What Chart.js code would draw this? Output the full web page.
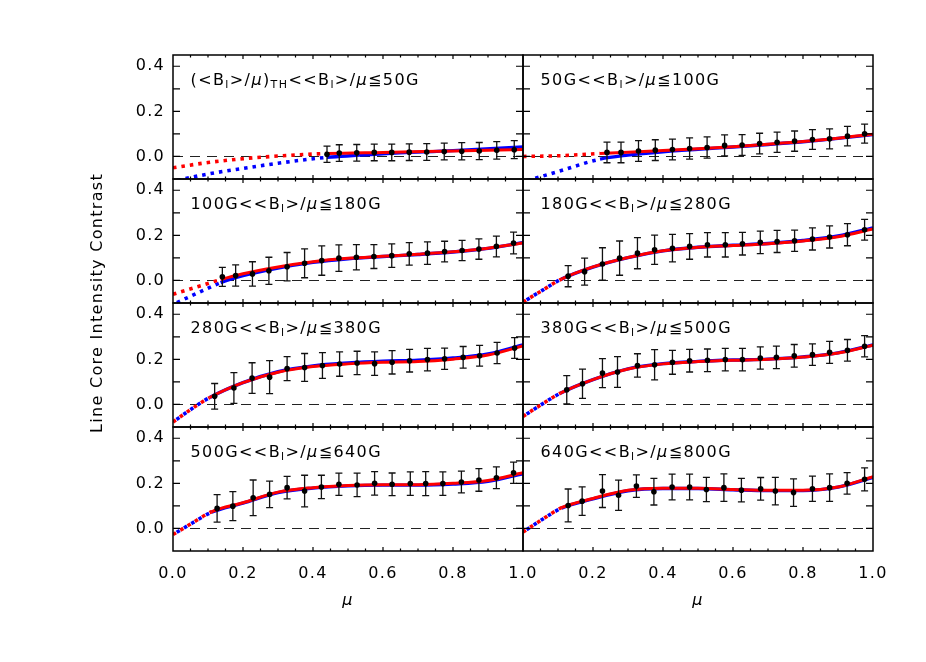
<!DOCTYPE html>
<html>
<head>
<meta charset="utf-8">
<script src="https://cdn.jsdelivr.net/npm/chart.js@4.4.1/dist/chart.umd.min.js"></script>
<style>
html, body { margin: 0; padding: 0; background: #fff; }
#wrap { width: 926px; height: 662px; }
</style>
</head>
<body>
<div id="wrap"><canvas id="c" width="926" height="662"></canvas></div>
<script>
// panel titles, _{..} = subscript
const panelLabels = [
  '(<B_{l}>/μ)_{TH}<<B_{l}>/μ≦50G', '50G<<B_{l}>/μ≦100G',
  '100G<<B_{l}>/μ≦180G', '180G<<B_{l}>/μ≦280G',
  '280G<<B_{l}>/μ≦380G', '380G<<B_{l}>/μ≦500G',
  '500G<<B_{l}>/μ≦640G', '640G<<B_{l}>/μ≦800G'
];

// binned measurements
const muPoints = [
  [0.44, 0.475, 0.525, 0.575, 0.625, 0.675, 0.725, 0.775, 0.825, 0.875, 0.925, 0.975],
  [0.24, 0.28, 0.33, 0.378, 0.427, 0.476, 0.526, 0.576, 0.626, 0.676, 0.726, 0.776, 0.827, 0.876, 0.927, 0.976],
  [0.141, 0.179, 0.227, 0.274, 0.326, 0.376, 0.425, 0.474, 0.524, 0.574, 0.625, 0.675, 0.727, 0.776, 0.826, 0.874, 0.924, 0.973],
  [0.129, 0.176, 0.227, 0.276, 0.327, 0.376, 0.427, 0.476, 0.527, 0.578, 0.627, 0.678, 0.726, 0.776, 0.827, 0.876, 0.927, 0.976],
  [0.119, 0.174, 0.226, 0.276, 0.326, 0.376, 0.427, 0.476, 0.526, 0.576, 0.626, 0.676, 0.727, 0.776, 0.829, 0.876, 0.926, 0.976],
  [0.125, 0.17, 0.227, 0.27, 0.327, 0.376, 0.427, 0.476, 0.527, 0.578, 0.627, 0.678, 0.724, 0.775, 0.827, 0.876, 0.927, 0.976],
  [0.126, 0.171, 0.229, 0.276, 0.326, 0.376, 0.424, 0.474, 0.526, 0.576, 0.626, 0.678, 0.722, 0.771, 0.824, 0.874, 0.924, 0.973],
  [0.129, 0.169, 0.227, 0.273, 0.324, 0.374, 0.426, 0.476, 0.524, 0.574, 0.624, 0.679, 0.721, 0.773, 0.827, 0.876, 0.926, 0.976]
];
const contrast = [
  [0.010, 0.015, 0.016, 0.018, 0.018, 0.019, 0.020, 0.022, 0.023, 0.024, 0.027, 0.030],
  [0.018, 0.018, 0.024, 0.028, 0.031, 0.035, 0.040, 0.049, 0.051, 0.057, 0.063, 0.068, 0.075, 0.078, 0.090, 0.101],
  [0.016, 0.022, 0.029, 0.043, 0.061, 0.076, 0.088, 0.099, 0.103, 0.106, 0.110, 0.118, 0.121, 0.128, 0.133, 0.139, 0.151, 0.166],
  [0.019, 0.039, 0.073, 0.099, 0.121, 0.136, 0.143, 0.151, 0.158, 0.158, 0.163, 0.169, 0.173, 0.176, 0.184, 0.193, 0.203, 0.225],
  [0.036, 0.073, 0.117, 0.121, 0.159, 0.164, 0.173, 0.179, 0.184, 0.181, 0.187, 0.194, 0.199, 0.203, 0.209, 0.216, 0.228, 0.250],
  [0.065, 0.092, 0.139, 0.144, 0.173, 0.176, 0.187, 0.194, 0.196, 0.199, 0.199, 0.206, 0.209, 0.216, 0.221, 0.231, 0.240, 0.258],
  [0.089, 0.099, 0.136, 0.151, 0.181, 0.166, 0.184, 0.196, 0.193, 0.200, 0.196, 0.199, 0.199, 0.199, 0.206, 0.215, 0.225, 0.247],
  [0.102, 0.121, 0.166, 0.147, 0.188, 0.163, 0.184, 0.184, 0.173, 0.181, 0.170, 0.176, 0.166, 0.159, 0.176, 0.181, 0.200, 0.218]
];
const contrastErr = [
  [0.036, 0.037, 0.037, 0.037, 0.037, 0.037, 0.037, 0.037, 0.038, 0.038, 0.039, 0.040],
  [0.046, 0.046, 0.046, 0.046, 0.046, 0.047, 0.047, 0.047, 0.046, 0.046, 0.045, 0.045, 0.044, 0.044, 0.043, 0.042],
  [0.042, 0.047, 0.054, 0.060, 0.063, 0.064, 0.065, 0.059, 0.056, 0.053, 0.052, 0.050, 0.050, 0.046, 0.045, 0.045, 0.046, 0.048],
  [0.047, 0.060, 0.072, 0.076, 0.069, 0.065, 0.061, 0.057, 0.054, 0.054, 0.050, 0.050, 0.049, 0.047, 0.049, 0.049, 0.049, 0.046],
  [0.057, 0.068, 0.068, 0.073, 0.053, 0.062, 0.057, 0.054, 0.052, 0.052, 0.052, 0.050, 0.050, 0.047, 0.048, 0.046, 0.047, 0.046],
  [0.063, 0.065, 0.064, 0.068, 0.052, 0.067, 0.053, 0.050, 0.050, 0.050, 0.050, 0.049, 0.050, 0.050, 0.048, 0.049, 0.048, 0.047],
  [0.061, 0.064, 0.079, 0.059, 0.050, 0.070, 0.052, 0.049, 0.052, 0.052, 0.050, 0.052, 0.053, 0.052, 0.048, 0.050, 0.048, 0.047],
  [0.073, 0.063, 0.073, 0.067, 0.050, 0.059, 0.057, 0.057, 0.054, 0.061, 0.052, 0.050, 0.061, 0.061, 0.056, 0.061, 0.048, 0.051]
];

// fitted curves (red / blue), dotted below fitStart
const fitStart = [0.44, 0.22, 0.136, 0.11, 0.105, 0.107, 0.11, 0.11];
const fitMu = [
  [0, 0.1, 0.2, 0.3, 0.44, 0.6, 0.8, 1.0],
  [0, 0.1, 0.22, 0.3, 0.4, 0.5, 0.6, 0.7, 0.8, 0.9, 1.0],
  [0, 0.07, 0.136, 0.2, 0.3, 0.4, 0.5, 0.6, 0.7, 0.8, 0.9, 1.0],
  [0, 0.055, 0.11, 0.2, 0.3, 0.4, 0.5, 0.6, 0.7, 0.8, 0.9, 1.0],
  [0, 0.05, 0.105, 0.2, 0.3, 0.4, 0.5, 0.6, 0.7, 0.8, 0.9, 1.0],
  [0, 0.05, 0.107, 0.2, 0.3, 0.4, 0.5, 0.6, 0.7, 0.8, 0.9, 1.0],
  [0, 0.055, 0.11, 0.2, 0.3, 0.4, 0.5, 0.6, 0.7, 0.8, 0.9, 1.0],
  [0, 0.055, 0.11, 0.2, 0.3, 0.4, 0.5, 0.6, 0.7, 0.8, 0.9, 1.0]
];
const redFit = [
  [-0.050, -0.027, -0.010, 0.002, 0.013, 0.018, 0.024, 0.031],
  [0.0, 0.003, 0.013, 0.019, 0.026, 0.034, 0.043, 0.054, 0.066, 0.081, 0.099],
  [-0.061, -0.028, 0.004, 0.030, 0.060, 0.083, 0.098, 0.107, 0.116, 0.127, 0.143, 0.166],
  [-0.096, -0.044, 0.006, 0.060, 0.102, 0.132, 0.147, 0.155, 0.163, 0.175, 0.194, 0.228],
  [-0.078, -0.023, 0.031, 0.097, 0.143, 0.168, 0.180, 0.187, 0.190, 0.201, 0.219, 0.260],
  [-0.053, -0.003, 0.050, 0.110, 0.157, 0.180, 0.190, 0.196, 0.200, 0.210, 0.228, 0.263],
  [-0.027, 0.024, 0.074, 0.114, 0.161, 0.181, 0.191, 0.194, 0.194, 0.200, 0.213, 0.247],
  [-0.016, 0.040, 0.092, 0.133, 0.169, 0.178, 0.178, 0.173, 0.169, 0.169, 0.184, 0.230]
];
const blueFit = [
  [-0.110, -0.078, -0.053, -0.030, -0.004, 0.012, 0.026, 0.042],
  [-0.113, -0.067, -0.012, 0.006, 0.021, 0.032, 0.042, 0.053, 0.065, 0.080, 0.097],
  [-0.106, -0.056, -0.010, 0.021, 0.055, 0.080, 0.096, 0.106, 0.115, 0.126, 0.142, 0.168],
  [-0.096, -0.044, 0.006, 0.059, 0.101, 0.131, 0.147, 0.156, 0.164, 0.177, 0.197, 0.233],
  [-0.078, -0.023, 0.031, 0.097, 0.145, 0.171, 0.184, 0.192, 0.196, 0.206, 0.224, 0.264],
  [-0.053, -0.003, 0.050, 0.110, 0.158, 0.181, 0.191, 0.197, 0.201, 0.211, 0.229, 0.264],
  [-0.027, 0.024, 0.072, 0.112, 0.159, 0.179, 0.189, 0.192, 0.192, 0.197, 0.209, 0.243],
  [-0.016, 0.040, 0.090, 0.131, 0.167, 0.177, 0.177, 0.172, 0.168, 0.168, 0.183, 0.226]
];

const xTicks = [0, 0.2, 0.4, 0.6, 0.8, 1.0];
const yTicks = [0, 0.2, 0.4];
const xMinor = [0.05, 0.1, 0.15, 0.2, 0.25, 0.3, 0.35, 0.4, 0.45, 0.5, 0.55, 0.6, 0.65, 0.7, 0.75, 0.8, 0.85, 0.9, 0.95];
const yMinor = [0, 0.1, 0.2, 0.3, 0.4];

Chart.defaults.font.family = '"DejaVu Sans", sans-serif';
Chart.defaults.color = '#000';

const FONT = '"DejaVu Sans", sans-serif';

function drawLabel(ctx, text, x, y) {
  const re = /_\{([^}]*)\}|μ|[^_μ]+/g;
  let m;
  while ((m = re.exec(text))) {
    let s = m[0], font = '16px ' + FONT, dy = 0;
    if (m[1] !== undefined) { s = m[1]; font = '11px ' + FONT; dy = 3; }
    else if (s === 'μ') font = 'italic 16px ' + FONT;
    ctx.font = font;
    ctx.fillText(s, x, y + dy);
    x += ctx.measureText(s).width;
  }
}

const panelPlugin = {
  id: 'panels',
  beforeLayout(chart) { chart.ctx.letterSpacing = '1.3px'; },
  beforeDraw(chart) { chart.ctx.letterSpacing = '1.3px'; },
  beforeDatasetDraw(chart, args) {
    const ds = chart.data.datasets[args.index];
    const xs = chart.scales[ds.xAxisID], ys = chart.scales[ds.yAxisID];
    const ctx = chart.ctx;
    ctx.save();
    ctx.beginPath();
    ctx.rect(xs.left, ys.top, xs.right - xs.left, ys.bottom - ys.top);
    ctx.clip();
    if (ds.errors) {
      ctx.strokeStyle = '#111';
      ctx.lineWidth = 1.3;
      ds.data.forEach((pt, i) => {
        const px = xs.getPixelForValue(pt.x);
        const top = ys.getPixelForValue(pt.y + ds.errors[i]);
        const bot = ys.getPixelForValue(pt.y - ds.errors[i]);
        ctx.beginPath();
        ctx.moveTo(px, top); ctx.lineTo(px, bot);
        ctx.moveTo(px - 3.5, top); ctx.lineTo(px + 3.5, top);
        ctx.moveTo(px - 3.5, bot); ctx.lineTo(px + 3.5, bot);
        ctx.stroke();
      });
    }
  },
  afterDatasetDraw(chart) { chart.ctx.restore(); },
  afterDraw(chart) {
    const ctx = chart.ctx;
    ctx.save();
    ctx.strokeStyle = '#000';
    ctx.fillStyle = '#000';
    panelLabels.forEach((lab, p) => {
      const xs = chart.scales['x' + (p % 2)], ys = chart.scales['y' + Math.floor(p / 2)];
      ctx.lineWidth = 1.5;
      ctx.strokeRect(xs.left, ys.top, xs.right - xs.left, ys.bottom - ys.top);
      ctx.lineWidth = 1.2;
      ctx.beginPath();
      yMinor.forEach(v => {
        const py = ys.getPixelForValue(v);
        ctx.moveTo(xs.left, py); ctx.lineTo(xs.left + 7, py);
        ctx.moveTo(xs.right, py); ctx.lineTo(xs.right - 7, py);
      });
      xMinor.forEach(v => {
        const px = xs.getPixelForValue(v);
        const len = xTicks.some(t => Math.abs(t - v) < 1e-6) ? 4 : 2.5;
        ctx.moveTo(px, ys.bottom); ctx.lineTo(px, ys.bottom - len);
        ctx.moveTo(px, ys.top); ctx.lineTo(px, ys.top + len);
      });
      ctx.stroke();
      ctx.textAlign = 'left';
      ctx.textBaseline = 'alphabetic';
      ctx.letterSpacing = '1.4px';
      drawLabel(ctx, lab, xs.left + 17.5, ys.top + 29.5);
    });
    ctx.restore();
  }
};

const datasets = [];
panelLabels.forEach((lab, p) => {
  const xa = 'x' + (p % 2), ya = 'y' + Math.floor(p / 2);
  const start = fitStart[p];
  const isDotted = c => c.p1.parsed.x <= start + 1e-6;
  const segStyle = {
    borderDash: c => (isDotted(c) ? [3.5, 5] : undefined),
    borderWidth: c => (isDotted(c) ? 3.6 : undefined)
  };
  datasets.push({
    label: lab,
    data: muPoints[p].map((m, i) => ({ x: m, y: contrast[p][i] })),
    errors: contrastErr[p],
    showLine: false,
    pointRadius: 2.8,
    pointBorderWidth: 0,
    pointBackgroundColor: '#000',
    borderColor: '#000',
    xAxisID: xa, yAxisID: ya,
    order: 0
  });
  datasets.push({
    label: lab + ' red fit',
    data: fitMu[p].map((m, i) => ({ x: m, y: redFit[p][i] })),
    borderColor: '#ff0000',
    borderWidth: 3,
    pointRadius: 0,
    cubicInterpolationMode: 'monotone',
    segment: segStyle,
    xAxisID: xa, yAxisID: ya,
    order: 1
  });
  datasets.push({
    label: lab + ' blue fit',
    data: fitMu[p].map((m, i) => ({ x: m, y: blueFit[p][i] })),
    borderColor: '#0000ff',
    borderWidth: 3.4,
    borderDashOffset: 4.2,
    pointRadius: 0,
    cubicInterpolationMode: 'monotone',
    segment: segStyle,
    xAxisID: xa, yAxisID: ya,
    order: 2
  });
});

const scales = {
  ytitle: {
    type: 'linear', position: 'left', weight: 10,
    ticks: { display: false },
    grid: { display: false, drawTicks: false },
    border: { display: false },
    title: { display: true, text: 'Line Core Intensity Contrast', color: '#000',
             font: { size: 16 }, padding: { top: 88, bottom: 0 } },
    afterFit: s => { s.width = 123; }
  }
};
for (let r = 0; r < 4; r++) {
  scales['y' + r] = {
    type: 'linear', position: 'left', stack: 'rows', stackWeight: 1, weight: 4 - r,
    min: -0.1, max: 0.45,
    afterBuildTicks: s => { s.ticks = yTicks.map(v => ({ value: v })); },
    ticks: { padding: 8, font: { size: 16 }, color: '#000', callback: v => v.toFixed(1) },
    grid: {
      drawTicks: false, lineWidth: 1.1,
      color: c => (c.tick && c.tick.value === 0 ? '#222' : 'rgba(0,0,0,0)')
    },
    border: { display: false, dash: [10, 7] },
    afterFit: s => { s.width = 50; }
  };
}
for (let c = 0; c < 2; c++) {
  scales['x' + c] = {
    type: 'linear', position: 'bottom', stack: 'cols', stackWeight: 1, weight: c + 1,
    min: 0, max: 1,
    afterBuildTicks: s => { s.ticks = xTicks.map(v => ({ value: v })); },
    ticks: {
      padding: 13, font: { size: 16 }, color: '#000', autoSkip: false, maxRotation: 0,
      callback: v => (c === 1 && v === 0 ? '' : v.toFixed(1))
    },
    grid: { display: false, drawTicks: false },
    border: { display: false },
    title: { display: true, text: 'μ', color: '#000',
             font: { size: 16, style: 'italic' }, padding: { top: 0, bottom: 3 } },
    afterFit: s => { s.height = 62; }
  };
}

new Chart(document.getElementById('c'), {
  type: 'line',
  data: { datasets },
  options: {
    responsive: false,
    animation: false,
    events: [],
    layout: { padding: { left: 0, top: 55, right: 53, bottom: 49 } },
    plugins: { legend: { display: false }, tooltip: { enabled: false } },
    scales
  },
  plugins: [panelPlugin]
});
</script>
</body>
</html>
